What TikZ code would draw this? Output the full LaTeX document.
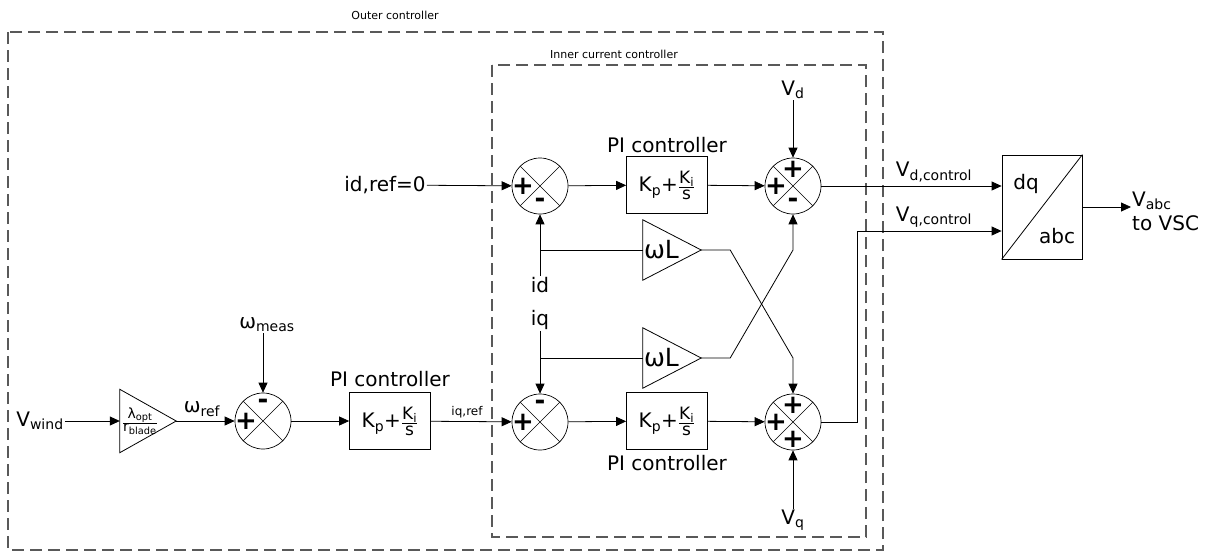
\documentclass[tikz,border=0pt]{standalone}
\usepackage{fontspec}
\setmainfont{DejaVu Sans}
\usetikzlibrary{positioning, arrows.meta}
\newcommand{\PIgain}{K\textsubscript{p}+$\frac{\hbox{\fontsize{17}{17}\selectfont K\textsubscript{i}}}{\hbox{\fontsize{17}{17}\selectfont s}}$}

\begin{document}
\begin{tikzpicture}[x=1pt, y=-1pt,
        every node/.style={font=\fontsize{20}{24}\selectfont, inner sep=1pt},
        wire/.style={line width=0.8pt},
        arrow/.style={wire, ->, >={Triangle[length=10pt,width=9pt]}},
        frame/.style={draw=black!65, dash pattern=on 12pt off 6pt, line width=1.1pt},
        sumnode/.style={circle, draw, line width=0.7pt, minimum size=56pt, inner sep=0pt,
            path picture={\draw[line width=0.6pt] (path picture bounding box.south west) -- (path picture bounding box.north east)
                (path picture bounding box.north west) -- (path picture bounding box.south east);}},
        pibox/.style={rectangle, draw, line width=0.7pt, minimum width=81pt, minimum height=57pt},
        gainbox/.style={rectangle, inner xsep=1pt, inner ysep=0pt, align=left, text width=56pt, minimum height=60pt},
        sgn/.style={font=\fontsize{26}{26}\selectfont\bfseries, inner sep=0pt},
        small/.style={font=\fontsize{11}{13}\selectfont}
    ]
    \useasboundingbox (0,0) rectangle (1207,552);
    \draw[frame] (8,32) rectangle (883,550);
    \draw[frame] (492,65) rectangle (866,537);
    \node[small] (outerlbl) at (395,15) {Outer controller};
    \node[small] (innerlbl) at (614,54) {Inner current controller};

    \node (vw) at (40,421) {V\textsubscript{wind}};
    \node[gainbox, inner xsep=2pt, text width=52pt, minimum height=63pt, font=\fontsize{14}{16}\selectfont] (gain) at (148,421)
        {$\frac{\hbox{λ\textsubscript{opt}}}{\hbox{r\textsubscript{blade}}}$};
    \node (wref) at (202,409) {ω\textsubscript{ref}};
    \node[sumnode] (s0) at (263,421) {};
    \node (wmeas) at (267,325) {ω\textsubscript{meas}};
    \node[pibox] (pio) at (390,421) {\PIgain};
    \node[above=4pt of pio] (pio-lbl) {PI controller};
    \node[font=\fontsize{12}{14}\selectfont] (iqref) at (467,412) {iq,ref};

    \node (idref) at (385,185) {id,ref=0};
    \node[sumnode] (s1) at (540,186) {};
    \node[pibox] (pi1) at (667,185) {\PIgain};
    \node[above=2pt of pi1] (pi1-lbl) {PI controller};
    \node[sumnode] (s2) at (793,186) {};
    \node (vd) at (793,90) {V\textsubscript{d}};
    \node[gainbox, font=\fontsize{25}{28}\selectfont] (wl1) at (672,250) {ωL};
    \node (id) at (540,285) {id};
    \node (iq) at (540,320) {iq};
    \node[gainbox, font=\fontsize{25}{28}\selectfont] (wl2) at (672,358) {ωL};
    \node[sumnode] (s3) at (540,422) {};
    \node[pibox] (pi2) at (667,421) {\PIgain};
    \node[below=4pt of pi2] (pi2-lbl) {PI controller};
    \node[sumnode] (s4) at (793,422) {};
    \node (vq) at (793,520) {V\textsubscript{q}};

    \node[draw, line width=0.8pt, minimum width=80pt, minimum height=104pt] (conv) at (1042,207) {};
    \node (dq) at (1026,184) {dq};
    \node (abc) at (1057,236) {abc};
    \node (vdc) at (934,172) {V\textsubscript{d,control}};
    \node (vqc) at (934,217) {V\textsubscript{q,control}};
    \node[align=left, anchor=west] (vabc) at (1131,211) {V\textsubscript{abc}\\to VSC};

    \foreach \s/\a/\t in {s0/180/+, s0/90/-, s1/180/+, s1/270/-, s2/180/+, s2/90/+, s2/270/-,
            s3/180/+, s3/90/-, s4/180/+, s4/90/+, s4/270/+}
        \node[sgn] (\s-\a) at ([shift={(\a:17pt)}]\s) {\t};
    \foreach \g in {gain, wl1, wl2}
        \draw[wire] (\g.north west) -- (\g.east) -- (\g.south west) -- cycle;
    \draw[wire] (conv.south west) -- (conv.north east);

    \draw[arrow] (vw) -- (gain);
    \draw[arrow] (gain) -- (s0);
    \draw[arrow] (s0 |- wmeas.south) -- (s0);
    \draw[arrow] (s0) -- (pio);
    \draw[arrow] (pio) -- (s3);
    \draw[arrow] (idref) -- (s1);
    \draw[arrow] (s1) -- (pi1);
    \draw[arrow] (pi1) -- (s2);
    \draw[arrow] (vd) -- (s2);
    \draw[arrow] (s3) -- (pi2);
    \draw[arrow] (pi2) -- (s4);
    \draw[arrow] (vq) -- (s4);
    \draw[arrow] (id) -- (s1);
    \draw[arrow] (iq) -- (s3);
    \draw[wire] (id |- wl1) -- (wl1.west);
    \draw[wire] (iq |- wl2) -- (wl2.west);
    \draw[arrow] (wl1.east) -- ++(29,0) -- (wl2 -| s4) -- (s4);
    \draw[arrow] (wl2.east) -- ++(29,0) -- (wl1 -| s2) -- (s2);
    \draw[arrow] (s2) -- (s2 -| conv.west);
    \draw[arrow] (s4.east) -- ++(36,0) |- ([yshift=-24pt]conv.west);
    \draw[arrow] (conv.east) -- (conv.east -| vabc.west);
\end{tikzpicture}
\end{document}
